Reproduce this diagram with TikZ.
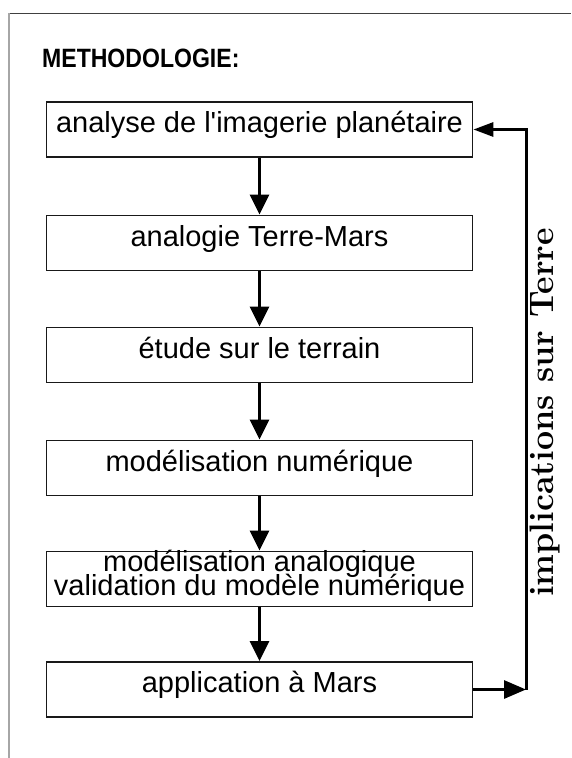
\documentclass[tikz,border=0pt]{standalone}
\usepackage{fontspec}
\newfontfamily\arial{Liberation Sans}
\usetikzlibrary{arrows.meta}
\tikzset{
  box/.style={draw=black!90, line width=1.8pt, minimum width=426pt, minimum height=55pt,
    inner sep=0pt, font=\arial\fontsize{29}{23.5}\selectfont, text height=15pt, text depth=9pt},
  txt/.style={inner sep=0pt, font=\arial\fontsize{29}{23.5}\selectfont},
  flow/.style={line width=3pt, -{Triangle[length=20pt,width=19pt]}},
  fbline/.style={line width=3pt},
  fbtip/.style={line width=3pt, -{Triangle[length=20pt,width=14pt]}},
  fbtipb/.style={line width=3pt, -{Triangle[length=22pt,width=18pt]}},
}
\begin{document}
\begin{tikzpicture}[x=1pt,y=-1pt]
\useasboundingbox[fill=white] (0,0) rectangle (571,758);
% frame lines
\draw[line width=1pt, black!75] (9,13) -- (571,13);
\draw[line width=1.5pt, black!35] (9,13) -- (9,758);
% title
\node[inner sep=0pt, anchor=base west, xscale=0.87, font=\arial\bfseries\fontsize{26.5}{30}\selectfont] (title) at (42,67) {METHODOLOGIE:};
% boxes
\node[box] (b1) at (259.5,129.5) {analyse de l'imagerie planétaire};
\node[box] (b2) at (259.5,243) {analogie Terre-Mars};
\node[box] (b3) at (259.5,355) {étude sur le terrain};
\node[box] (b4) at (259.5,468) {modélisation numérique};
\node[box] (b5) at (259.5,579) {};
\node[txt, anchor=base] (b5a) at (259.5,571.7) {modélisation analogique};
\node[txt, anchor=base] (b5b) at (259.5,595) {validation du modèle numérique};
\node[box] (b6) at (259.5,689.5) {application à Mars};
% flow arrows
\draw[flow] (b1) -- (b2);
\draw[flow] (b2) -- (b3);
\draw[flow] (b3) -- (b4);
\draw[flow] (b4) -- (b5);
\draw[flow] (b5) -- (b6);
% feedback loop
\coordinate (fbb) at (526,689.5);
\coordinate (fbt) at (526,129.5);
\draw[fbtipb] (b6.east) -- (fbb);
\draw[fbtip, line join=miter] (fbb) -- (fbt) -- (b1.east);
% label
\node[rotate=90, inner sep=0pt, font=\bfseries\fontsize{34}{34}\selectfont] (lab) at (544.5,412.5) {implications sur Terre};
\end{tikzpicture}
\end{document}
